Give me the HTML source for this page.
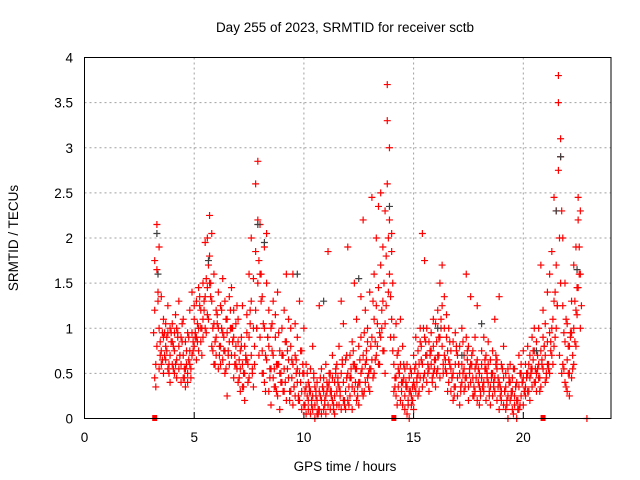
<!DOCTYPE html>
<html><head><meta charset="utf-8"><style>
html,body{margin:0;padding:0;background:#fff}
svg{display:block;font-family:"Liberation Sans",sans-serif}
</style></head><body>
<svg id="chart" width="640" height="480" viewBox="0 0 640 480" xmlns="http://www.w3.org/2000/svg">
<text x="345" y="32" font-size="13.5" text-anchor="middle" fill="#000">Day 255 of 2023, SRMTID for receiver sctb</text>
<text x="18" y="238" font-size="13.5" text-anchor="middle" fill="#000" transform="rotate(-90 18 238)">SRMTID / TECUs</text>
<text x="345" y="471" font-size="13.5" text-anchor="middle" fill="#000">GPS time / hours</text>
<g id="grid"></g>
<g id="ticks"></g>
<g id="marks"></g>
<rect x="84.5" y="57.5" width="526.5" height="361" fill="none" stroke="#000" stroke-width="1"/>
</svg>
<script>
const hours=[3.2,3.3,3.4,3.5,3.6,3.7,3.8,3.9,4.0,4.1,4.2,4.3,4.4,4.5,4.6,4.7,4.8,4.9,5.0,5.1,5.2,5.3,5.4,5.5,5.6,5.7,5.8,5.9,6.0,6.1,6.2,6.3,6.4,6.5,6.6,6.7,6.8,6.9,7.0,7.1,7.2,7.3,7.4,7.5,7.6,7.7,7.8,7.9,8.0,8.1,8.2,8.3,8.4,8.5,8.6,8.7,8.8,8.9,9.0,9.1,9.2,9.3,9.4,9.5,9.6,9.7,9.8,9.9,10.0,10.1,10.2,10.3,10.4,10.5,10.6,10.7,10.8,10.9,11.0,11.1,11.2,11.3,11.4,11.5,11.6,11.7,11.8,11.9,12.0,12.1,12.2,12.3,12.4,12.5,12.6,12.7,12.8,12.9,13.0,13.1,13.2,13.3,13.4,13.5,13.6,13.7,13.8,13.9,14.0,14.1,14.2,14.3,14.4,14.5,14.6,14.7,14.8,14.9,15.0,15.1,15.2,15.3,15.4,15.5,15.6,15.7,15.8,15.9,16.0,16.1,16.2,16.3,16.4,16.5,16.6,16.7,16.8,16.9,17.0,17.1,17.2,17.3,17.4,17.5,17.6,17.7,17.8,17.9,18.0,18.1,18.2,18.3,18.4,18.5,18.6,18.7,18.8,18.9,19.0,19.1,19.2,19.3,19.4,19.5,19.6,19.7,19.8,19.9,20.0,20.1,20.2,20.3,20.4,20.5,20.6,20.7,20.8,20.9,21.0,21.1,21.2,21.3,21.4,21.5,21.6,21.7,21.8,21.9,22.0,22.1,22.2,22.3,22.4,22.5,22.6];
const valsA=[1.75,2.15,1.9,0.75,0.9,0.65,0.55,0.7,0.85,0.5,0.45,0.8,0.4,0.7,0.35,0.5,0.6,0.95,1.1,0.9,1.0,1.2,1.5,1.95,1.45,2.25,2.05,1.6,0.7,1.0,0.8,0.65,1.3,0.95,0.6,1.45,0.9,1.05,0.4,0.55,0.35,0.8,0.95,1.6,1.3,1.0,2.6,2.85,2.15,0.75,1.9,2.05,0.3,0.55,1.3,0.9,0.6,0.1,1.0,0.55,0.85,1.1,0.3,0.6,0.25,0.9,0.5,0.3,0.15,0.35,0.2,0.05,0.25,0.15,0.4,0.1,0.2,0.3,0.05,0.35,0.1,0.45,0.25,0.6,0.15,1.3,0.4,0.3,0.2,0.7,0.1,1.5,0.55,0.4,0.9,0.25,0.6,1.0,0.55,2.45,1.1,0.7,1.45,0.9,1.9,2.3,3.7,3.0,2.05,0.6,0.45,0.75,0.2,0.4,0.55,0.05,0.3,0.15,0.4,0.6,0.25,0.85,2.05,1.75,0.7,0.55,0.95,0.5,1.05,0.7,1.5,1.7,1.35,0.9,0.65,0.3,0.85,0.6,0.25,0.5,1.0,0.7,1.6,0.35,0.6,0.45,0.9,0.2,0.5,0.75,0.3,0.55,0.4,0.65,0.25,0.45,0.55,1.35,0.3,0.15,0.5,0.25,0.4,0.1,0.55,0.2,0.35,0.25,0.45,0.6,0.3,0.7,0.55,0.4,0.85,0.6,0.35,0.9,0.7,1.4,0.95,1.85,2.45,2.3,3.8,3.1,2.0,1.5,1.05,0.5,0.95,1.7,1.9,2.45,2.3];
const valsB=[1.2,1.65,0.55,1.35,0.5,1.05,0.95,0.4,0.6,0.75,1.0,0.55,0.9,1.1,0.85,0.4,1.2,1.4,0.8,1.3,0.75,0.85,1.1,1.35,2.0,1.5,1.3,0.6,1.2,0.55,1.25,0.95,0.75,0.25,1.35,1.0,1.2,0.6,0.85,0.3,1.25,0.5,0.65,0.9,2.0,1.55,1.85,2.2,1.6,1.35,1.0,0.65,1.2,1.0,0.7,0.35,1.4,0.75,0.4,1.2,0.2,0.45,0.8,1.6,0.7,0.4,1.3,0.75,0.5,0.05,0.4,0.3,0.1,0.35,0.05,0.3,0.55,0.1,0.6,0.15,0.5,0.2,0.05,0.3,0.8,0.1,0.2,0.65,0.5,0.25,0.85,0.3,1.1,0.15,0.5,0.7,1.2,0.45,1.4,0.9,0.5,2.0,0.6,1.7,0.75,1.05,3.3,2.2,1.85,0.3,1.05,0.35,0.6,0.15,0.25,0.35,0.0,0.5,0.1,0.3,0.75,0.45,0.6,0.9,1.0,0.85,0.6,0.8,0.65,1.2,0.9,1.25,0.7,0.5,1.0,0.75,0.2,0.35,0.7,0.15,0.4,0.3,0.45,0.8,1.35,0.25,0.55,0.65,0.35,0.45,0.9,0.2,0.6,0.15,0.5,1.1,0.2,0.4,0.6,0.45,0.1,0.55,0.2,0.3,0.15,0.0,0.7,0.5,0.15,0.35,0.8,0.45,0.9,0.75,0.5,1.0,0.75,0.55,1.05,0.6,1.6,1.0,1.3,1.7,3.5,2.9,1.25,0.85,0.3,0.25,0.45,1.0,1.2,2.2,1.6];
const valsC=[0.45,0.8,1.0,0.6,1.1,0.8,1.25,1.0,1.05,0.95,0.65,1.3,0.6,0.45,0.55,0.95,0.75,0.7,1.25,0.65,1.45,1.0,0.9,1.0,1.15,1.8,0.8,1.05,0.9,1.4,0.6,1.55,0.5,1.1,0.85,0.7,0.45,0.8,1.1,0.75,0.6,0.2,1.15,0.45,0.7,0.35,1.2,1.5,0.9,0.5,0.4,1.5,0.8,0.15,0.45,1.15,0.25,0.5,0.7,0.3,1.6,0.65,1.0,0.15,1.05,0.55,0.2,0.1,1.0,0.6,0.1,0.55,0.8,0.0,0.2,1.25,0.05,0.45,0.25,1.85,0.3,0.7,0.4,0.15,0.35,0.5,1.05,0.1,1.9,0.45,0.35,0.6,0.2,0.8,1.35,2.2,0.4,0.85,0.3,0.65,1.6,1.25,2.35,2.5,1.3,0.5,2.6,1.6,1.1,0.9,0.25,0.55,1.1,0.8,0.1,0.6,0.45,0.25,0.7,0.9,0.5,1.0,0.35,0.5,0.4,0.3,0.75,1.1,0.35,0.55,0.45,0.8,1.0,1.15,0.4,0.55,0.5,0.95,0.45,0.8,0.6,0.55,0.9,0.2,0.4,0.75,0.3,1.25,0.15,0.6,0.4,0.7,0.85,0.35,0.75,0.3,0.65,0.1,0.2,0.8,0.35,0.0,0.6,0.45,0.25,0.4,0.1,0.6,0.75,0.25,0.5,0.2,0.35,1.0,0.3,0.45,1.7,1.2,0.4,0.85,0.5,0.7,0.8,1.0,2.75,1.5,0.6,0.4,0.65,0.8,1.3,0.6,0.8,1.45,1.0];
const valsD=[0.35,1.3,0.7,0.95,0.7,0.9,0.6,0.85,0.55,1.15,0.9,0.7,1.05,0.55,0.75,0.65,0.45,0.85,0.9,1.05,1.25,0.7,1.3,1.55,1.7,1.35,1.0,0.85,1.05,0.8,1.0,0.75,1.1,0.7,1.0,0.85,0.6,1.25,0.65,0.9,0.5,0.65,0.4,1.2,0.55,0.8,1.0,1.75,1.3,1.05,0.7,0.9,0.55,0.75,0.35,0.6,0.95,0.4,0.3,0.85,0.55,0.3,0.65,0.35,0.5,0.2,0.75,0.5,0.3,0.25,0.3,0.15,0.45,0.25,0.1,0.45,0.35,0.2,0.4,0.5,0.25,0.1,0.55,0.4,0.25,0.65,0.15,0.45,0.35,0.55,0.6,0.4,0.35,0.65,0.3,0.95,0.75,0.5,0.8,1.3,0.85,1.05,0.95,1.2,1.5,1.8,2.0,1.35,1.5,0.45,0.7,0.5,0.4,0.6,0.4,0.2,0.55,0.35,0.55,0.45,0.6,0.65,1.0,0.7,0.5,0.75,0.45,0.65,0.85,0.9,1.1,0.6,0.55,0.75,0.85,0.45,0.35,0.75,0.6,0.35,0.5,0.45,0.75,0.55,0.6,0.35,0.45,0.4,0.3,0.35,0.55,0.45,0.3,0.5,0.4,0.6,0.35,0.25,0.55,0.3,0.2,0.4,0.3,0.55,0.35,0.1,0.5,0.4,0.3,0.5,0.6,0.5,0.65,0.55,0.7,0.45,0.6,0.8,0.5,0.6,0.75,1.1,1.4,1.25,2.0,2.3,0.95,1.1,0.8,0.95,0.7,1.3,1.45,1.9,1.25];
const valsE=[0.95,0.6,1.4,0.85,0.65,0.95,0.75,0.5,0.95,0.8,0.6,0.95,0.7,0.85,0.45,0.6,0.9,0.55,0.75,0.95,0.85,1.35,1.0,1.2,0.95,1.1,1.5,0.75,0.6,1.15,0.7,1.2,0.9,0.55,0.75,1.2,1.0,0.7,0.55,0.45,0.8,0.35,0.7,0.6,1.05,0.5,0.6,1.0,0.7,1.6,0.5,0.3,0.9,0.45,1.05,0.55,0.3,0.6,0.5,0.7,0.4,0.75,0.2,0.45,0.35,0.65,0.25,0.4,0.6,0.15,0.5,0.35,0.2,0.5,0.3,0.05,0.25,0.35,0.15,0.3,0.4,0.3,0.15,0.5,0.45,0.3,0.6,0.2,0.7,0.15,0.45,0.75,0.55,0.25,0.4,0.55,0.3,0.65,0.35,0.55,0.45,0.65,0.8,0.6,1.0,0.75,1.25,1.4,0.9,0.75,0.35,0.15,0.5,0.3,0.45,0.35,0.15,0.3,0.2,0.35,0.4,0.3,0.8,0.45,0.85,0.6,0.7,0.4,0.55,0.5,0.7,1.0,0.5,0.65,0.3,0.6,0.45,0.25,0.8,0.6,0.3,0.85,0.35,0.65,0.5,0.7,0.25,0.6,0.55,0.25,0.35,0.65,0.5,0.25,0.45,0.35,0.7,0.45,0.35,0.55,0.3,0.15,0.45,0.25,0.05,0.35,0.2,0.15,0.4,0.3,0.45,0.3,0.55,0.75,0.4,0.55,0.3,0.65,0.8,0.45,0.55,0.85,0.6,0.9,1.25,0.7,0.5,0.55,0.35,0.5,0.9,0.55,0.85,1.15,1.6];
const grayHours=[3.3,3.35,5.65,7.9,8.2,9.7,10.9,12.5,13.9,16.1,17.2,18.1,20.6,21.5,21.7,22.45];
const grayVals=[2.05,1.6,1.75,2.15,1.95,1.6,1.3,1.55,2.35,1.0,0.7,1.05,0.75,2.3,2.9,1.65];
const gapHours=[3.2,14.1,20.9];
const endHour=22.9;
const xTicks=[0,5,10,15,20];
const yTicks=[0,0.5,1,1.5,2,2.5,3,3.5,4];
const yTickLabels=["0","0.5","1","1.5","2","2.5","3","3.5","4"];

const NS="http://www.w3.org/2000/svg";
const X=h=>84.5+h*21.94;
const Y=v=>418.5-v*90.25;
function mk(tag,attrs,parent){const e=document.createElementNS(NS,tag);for(const k in attrs)e.setAttribute(k,attrs[k]);parent.appendChild(e);return e;}
const grid=document.getElementById('grid'),ticks=document.getElementById('ticks'),marks=document.getElementById('marks');
xTicks.forEach(t=>{
  if(t>0){const g=mk('line',{x1:X(t),x2:X(t),y1:57.5,y2:418.5,stroke:'#a0a0a0','stroke-dasharray':'2,3'},grid);
  
  }
  const tk=mk('line',{x1:X(t),x2:X(t),y1:418.5,y2:412,stroke:'#000'},ticks);
  
  
  const tx=mk('text',{x:X(t),y:442,'font-size':13.5,'text-anchor':'middle',fill:'#000'},ticks);tx.textContent=String(t);
  
  
});
yTicks.forEach((t,i)=>{
  if(t>0&&t<4){const g=mk('line',{x1:84.5,x2:611,y1:Y(t),y2:Y(t),stroke:'#a0a0a0','stroke-dasharray':'2,3'},grid);
  
  }
  const tx=mk('text',{x:73,y:Y(t)+5,'font-size':13.5,'text-anchor':'end',fill:'#000'},ticks);tx.textContent=yTickLabels[i];
  
  
});
function plus(h,v,color,name){
  const x=X(h),y=Y(v);
  const p=mk('path',{d:`M${x-3.5},${y}H${x+3.5}M${x},${y-3.5}V${y+3.5}`,stroke:color,'stroke-width':1.2,fill:'none'},marks);
  
  
}
[valsA,valsB,valsC].forEach(vals=>vals.forEach((v,i)=>plus(hours[i],v,'#ff0000','data-point')));
valsD.forEach((v,i)=>plus(hours[i]+0.05,v,'#ff0000','data-point'));
valsE.forEach((v,i)=>plus(hours[i]-0.05,v,'#ff0000','data-point'));
grayHours.forEach((h,i)=>plus(h,grayVals[i],'#404040','overlap-point'));
gapHours.forEach(h=>{
  const r=mk('rect',{x:X(h)-2.5,y:415,width:5,height:6,fill:'#ff0000'},marks);
  
  
});
plus(endHour,0,'#ff0000','end-marker');
</script>
</body></html>
